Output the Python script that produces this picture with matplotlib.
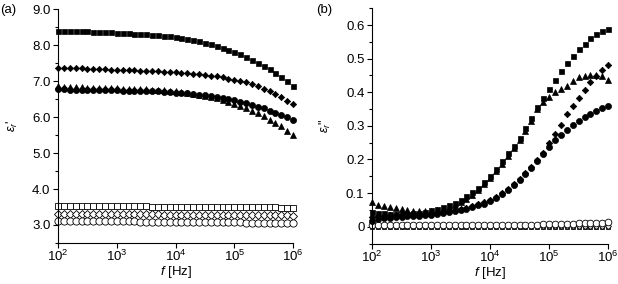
import numpy as np
import matplotlib
matplotlib.use('Agg')
import matplotlib.pyplot as plt
from matplotlib.ticker import MultipleLocator, FixedLocator

plt.rcParams['font.family'] = ['Liberation Sans', 'DejaVu Sans']
plt.rcParams['mathtext.fontset'] = 'custom'
plt.rcParams['mathtext.rm'] = 'Liberation Sans'
plt.rcParams['mathtext.it'] = 'Liberation Sans:italic'
plt.rcParams['font.size'] = 9.5

# frecuencias: 10 puntos por década de 1e2 a 1e6
frec = np.logspace(2, 6, 41)

# (a) parte real
re_cuad = [8.40, 8.40, 8.39, 8.39, 8.38, 8.38, 8.37, 8.36, 8.36, 8.35, 8.34,
           8.33, 8.33, 8.32, 8.31, 8.30, 8.29, 8.28, 8.26, 8.24, 8.22,
           8.20, 8.17, 8.14, 8.11, 8.07, 8.03, 7.98, 7.93, 7.87, 7.81,
           7.74, 7.67, 7.59, 7.51, 7.42, 7.33, 7.23, 7.12, 6.99, 6.86]
re_romb = [7.37, 7.36, 7.36, 7.35, 7.35, 7.34, 7.34, 7.33, 7.33, 7.32, 7.32,
           7.31, 7.31, 7.30, 7.29, 7.29, 7.28, 7.27, 7.26, 7.25, 7.24,
           7.23, 7.22, 7.20, 7.19, 7.17, 7.15, 7.13, 7.10, 7.07, 7.04,
           7.00, 6.96, 6.91, 6.85, 6.79, 6.72, 6.64, 6.55, 6.45, 6.35]
re_circ = [6.77, 6.77, 6.76, 6.76, 6.76, 6.75, 6.75, 6.75, 6.74, 6.74, 6.74,
           6.73, 6.73, 6.73, 6.72, 6.72, 6.71, 6.71, 6.70, 6.69, 6.68,
           6.67, 6.66, 6.64, 6.62, 6.60, 6.58, 6.55, 6.52, 6.49, 6.46,
           6.42, 6.38, 6.34, 6.29, 6.24, 6.18, 6.12, 6.06, 5.99, 5.92]
re_tri = [6.85, 6.84, 6.84, 6.83, 6.83, 6.82, 6.82, 6.81, 6.81, 6.80, 6.80,
          6.79, 6.79, 6.78, 6.77, 6.77, 6.76, 6.75, 6.74, 6.73, 6.71,
          6.69, 6.67, 6.65, 6.62, 6.59, 6.56, 6.52, 6.48, 6.43, 6.37,
          6.31, 6.25, 6.18, 6.10, 6.02, 5.93, 5.84, 5.74, 5.62, 5.50]
re_cuad_ab = [3.53, 3.53, 3.53, 3.53, 3.53, 3.53, 3.53, 3.52, 3.52, 3.52, 3.52,
              3.52, 3.52, 3.52, 3.52, 3.52, 3.51, 3.51, 3.51, 3.51, 3.51,
              3.51, 3.51, 3.51, 3.51, 3.50, 3.50, 3.50, 3.50, 3.50, 3.50,
              3.50, 3.49, 3.49, 3.49, 3.49, 3.49, 3.49, 3.48, 3.48, 3.48]
re_romb_ab = [3.31, 3.31, 3.31, 3.31, 3.31, 3.31, 3.31, 3.31, 3.30, 3.30, 3.30,
              3.30, 3.30, 3.30, 3.30, 3.30, 3.30, 3.30, 3.29, 3.29, 3.29,
              3.29, 3.29, 3.29, 3.29, 3.29, 3.29, 3.28, 3.28, 3.28, 3.28,
              3.28, 3.28, 3.28, 3.27, 3.27, 3.27, 3.27, 3.27, 3.27, 3.26]
re_circ_ab = [3.11, 3.11, 3.11, 3.11, 3.11, 3.11, 3.10, 3.10, 3.10, 3.10, 3.10,
              3.10, 3.10, 3.10, 3.09, 3.09, 3.09, 3.09, 3.09, 3.09, 3.09,
              3.08, 3.08, 3.08, 3.08, 3.08, 3.08, 3.07, 3.07, 3.07, 3.07,
              3.07, 3.06, 3.06, 3.06, 3.06, 3.06, 3.05, 3.05, 3.05, 3.05]

# (b) parte imaginaria
im_cuad = [0.045, 0.042, 0.040, 0.038, 0.037, 0.037, 0.038, 0.040, 0.042, 0.045, 0.049,
           0.053, 0.058, 0.064, 0.071, 0.080, 0.090, 0.102, 0.116, 0.132, 0.150,
           0.172, 0.195, 0.218, 0.241, 0.265, 0.293, 0.322, 0.355, 0.382, 0.410,
           0.436, 0.462, 0.487, 0.509, 0.528, 0.545, 0.560, 0.572, 0.582, 0.588]
im_tri = [0.072, 0.065, 0.062, 0.058, 0.055, 0.052, 0.050, 0.048, 0.047, 0.047, 0.048,
          0.050, 0.053, 0.058, 0.064, 0.072, 0.082, 0.095, 0.110, 0.128, 0.145,
          0.165, 0.188, 0.210, 0.233, 0.258, 0.285, 0.315, 0.350, 0.370, 0.385,
          0.400, 0.410, 0.420, 0.433, 0.444, 0.449, 0.452, 0.452, 0.447, 0.437]
im_romb = [0.030, 0.032, 0.033, 0.034, 0.034, 0.035, 0.035, 0.036, 0.037, 0.038, 0.039,
           0.041, 0.043, 0.046, 0.049, 0.053, 0.057, 0.062, 0.067, 0.072, 0.078,
           0.088, 0.100, 0.113, 0.127, 0.143, 0.160, 0.179, 0.199, 0.220, 0.248,
           0.275, 0.303, 0.335, 0.360, 0.382, 0.407, 0.430, 0.448, 0.466, 0.481]
im_circ = [0.018, 0.022, 0.025, 0.027, 0.029, 0.030, 0.031, 0.032, 0.033, 0.034, 0.036,
           0.038, 0.040, 0.043, 0.046, 0.050, 0.054, 0.059, 0.064, 0.069, 0.075,
           0.085, 0.097, 0.110, 0.124, 0.140, 0.157, 0.176, 0.196, 0.217, 0.238,
           0.257, 0.273, 0.288, 0.303, 0.314, 0.325, 0.336, 0.345, 0.352, 0.358]
im_cuad_ab = [0.000] * 41
im_romb_ab = [0.002, 0.002, 0.002, 0.002, 0.002, 0.002, 0.002, 0.002, 0.002, 0.002, 0.002,
              0.002, 0.002, 0.002, 0.002, 0.002, 0.002, 0.002, 0.002, 0.002, 0.002,
              0.002, 0.002, 0.002, 0.002, 0.002, 0.002, 0.002, 0.002, 0.002, 0.002,
              0.002, 0.002, 0.002, 0.003, 0.003, 0.003, 0.003, 0.003, 0.003, 0.003]
im_circ_ab = [0.004, 0.004, 0.004, 0.004, 0.004, 0.004, 0.004, 0.004, 0.004, 0.004, 0.004,
              0.004, 0.004, 0.004, 0.004, 0.004, 0.004, 0.004, 0.004, 0.004, 0.004,
              0.004, 0.004, 0.005, 0.005, 0.005, 0.006, 0.006, 0.006, 0.007, 0.007,
              0.008, 0.008, 0.009, 0.009, 0.010, 0.010, 0.011, 0.011, 0.012, 0.013]

fig = plt.figure(figsize=(6.18, 2.84), dpi=100)
ax1 = fig.add_axes([0.0939, 0.1444, 0.3803, 0.8236])
ax2 = fig.add_axes([0.602, 0.1426, 0.382, 0.8285])

def lleno(ax, y, m, ms):
    ax.plot(frec, y, ls='none', marker=m, ms=ms, mfc='black', mec='black',
            mew=0.5, clip_on=False)

def hueco(ax, y, m, ms):
    ax.plot(frec, y, ls='none', marker=m, ms=ms, mfc='white', mec='black',
            mew=0.6, clip_on=False)

hueco(ax1, re_cuad_ab, 's', 3.8)
hueco(ax1, re_romb_ab, 'D', 4.0)
hueco(ax1, re_circ_ab, 'o', 5.2)
lleno(ax1, re_cuad, 's', 3.6)
lleno(ax1, re_romb, 'D', 3.2)
lleno(ax1, re_circ, 'o', 4.4)
lleno(ax1, re_tri, '^', 4.4)

hueco(ax2, im_cuad_ab, 's', 3.0)
hueco(ax2, im_romb_ab, 'D', 3.0)
hueco(ax2, im_circ_ab, 'o', 4.8)
lleno(ax2, im_cuad, 's', 3.6)
lleno(ax2, im_romb, 'D', 3.3)
lleno(ax2, im_circ, 'o', 4.4)
lleno(ax2, im_tri, '^', 4.4)

for ax in (ax1, ax2):
    ax.set_xscale('log')
    ax.set_xlim(1e2, 1e6)
    ax.xaxis.set_major_locator(FixedLocator([1e2, 1e3, 1e4, 1e5, 1e6]))
    ax.xaxis.set_minor_locator(FixedLocator([]))
    ax.spines['top'].set_visible(False)
    ax.spines['right'].set_visible(False)
    ax.spines['left'].set_linewidth(0.8)
    ax.spines['bottom'].set_linewidth(0.8)
    ax.tick_params(which='major', direction='out', length=3.5, width=0.8, pad=2)
    ax.tick_params(axis='x', which='major', pad=1)
    ax.tick_params(which='minor', direction='out', length=2.5, width=0.8)
    ax.set_xlabel(r'$f$ [Hz]', labelpad=0, fontsize=9.5)

ax1.set_ylim(2.5, 9.0)
ax1.yaxis.set_major_locator(FixedLocator([3, 4, 5, 6, 7, 8, 9]))
ax1.yaxis.set_minor_locator(MultipleLocator(0.5))
ax1.set_yticklabels(['3.0', '4.0', '5.0', '6.0', '7.0', '8.0', '9.0'])
ax1.set_ylabel(r"$\varepsilon_r$'", labelpad=9, fontsize=9)

ax2.set_ylim(-0.05, 0.65)
ax2.yaxis.set_major_locator(FixedLocator([0, 0.1, 0.2, 0.3, 0.4, 0.5, 0.6]))
ax2.yaxis.set_minor_locator(MultipleLocator(0.05))
ax2.set_yticklabels(['0', '0.1', '0.2', '0.3', '0.4', '0.5', '0.6'])
ax2.set_ylabel(r'$\varepsilon_r$"', labelpad=9, fontsize=9)

fig.text(0.0, 0.985, '(a)', ha='left', va='top', fontsize=9.5)
fig.text(0.511, 0.985, '(b)', ha='left', va='top', fontsize=9.5)

plt.savefig('out.png', dpi=100)
